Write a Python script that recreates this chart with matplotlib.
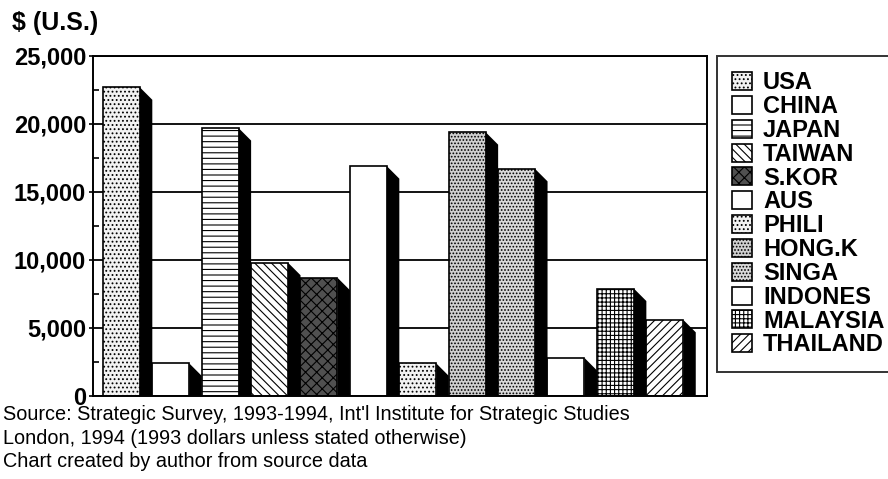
import matplotlib.pyplot as plt
from matplotlib.patches import Patch
from matplotlib.ticker import FuncFormatter, MultipleLocator

plt.rcParams['font.family'] = ['Liberation Sans', 'DejaVu Sans']
plt.rcParams['hatch.linewidth'] = 0.8

# defence spending per country, 1993 US dollars
countries = ['USA', 'CHINA', 'JAPAN', 'TAIWAN', 'S.KOR', 'AUS', 'PHILI',
             'HONG.K', 'SINGA', 'INDONES', 'MALAYSIA', 'THAILAND']
spending = [22700, 2400, 19700, 9800, 8700, 16900, 2400,
            19400, 16700, 2800, 7900, 5600]
yticks = [0, 5000, 10000, 15000, 20000, 25000]
source_lines = ["Source: Strategic Survey, 1993-1994, Int'l Institute for Strategic Studies",
                "London, 1994 (1993 dollars unless stated otherwise)",
                "Chart created by author from source data"]

# fill style for each bar
faces = ['#f2f2f2', 'white', 'white', 'white', '#505050', 'white', '#f2f2f2',
         '#cfcfcf', '#d9d9d9', 'white', 'white', 'white']
hatches = ['....', None, '---', '\\\\\\\\', 'xxx', None, '....',
           '.....', '.....', None, '++++', '////']

fig = plt.figure(figsize=(8.88, 4.79), dpi=100)
ax = fig.add_axes([0.1047, 0.1733, 0.6915, 0.7098])

x = list(range(len(countries)))
w = 0.75
dx, dy = 0.253, 920  # depth of the black 3D side

bars = ax.bar(x, spending, width=w, color=faces, edgecolor='black', linewidth=1.2, zorder=2)
for b, h in zip(bars, hatches):
    if h:
        b.set_hatch(h)
for xi, v in zip(x, spending):
    xr = xi + w / 2
    ax.fill([xr, xr + dx, xr + dx, xr], [v, v - dy, 0, 0], color='black', lw=0, zorder=2)

ax.set_xlim(-0.573, 11.856)
ax.set_ylim(0, 25000)
ax.set_xticks([])
ax.set_yticks(yticks)
ax.yaxis.set_major_formatter(FuncFormatter(lambda v, p: f'{int(v):,}'))
ax.yaxis.set_minor_locator(MultipleLocator(2500))
ax.tick_params(axis='y', which='major', direction='out', length=3, width=1.2,
               labelsize=17, pad=2)
ax.tick_params(axis='y', which='minor', direction='in', length=4, width=1.2)
for lab in ax.get_yticklabels():
    lab.set_fontweight('bold')
ax.grid(axis='y', color='black', linewidth=1.3)
ax.set_axisbelow(True)
for s in ax.spines.values():
    s.set_linewidth(1.4)

fig.text(0.0135, 0.937, '$ (U.S.)', fontsize=18, fontweight='bold', va='baseline')
for i, line in enumerate(source_lines):
    fig.text(0.003, (479 - 420.5 - 23.3 * i) / 479, line, fontsize=14.3, va='baseline')

handles = [Patch(facecolor=f, edgecolor='black', hatch=h, linewidth=1.2)
           for f, h in zip(faces, hatches)]
leg = fig.legend(handles, countries, loc='upper left', bbox_to_anchor=(0.8074, 0.8831),
                 frameon=True, fancybox=False, borderaxespad=0,
                 borderpad=0.65, labelspacing=0.035, handlelength=0.85,
                 handleheight=0.8, handletextpad=0.45, prop={'weight': 'bold', 'size': 17})
leg.get_frame().set_edgecolor('black')
leg.get_frame().set_linewidth(1.4)

fig.savefig('out.png', dpi=100)
